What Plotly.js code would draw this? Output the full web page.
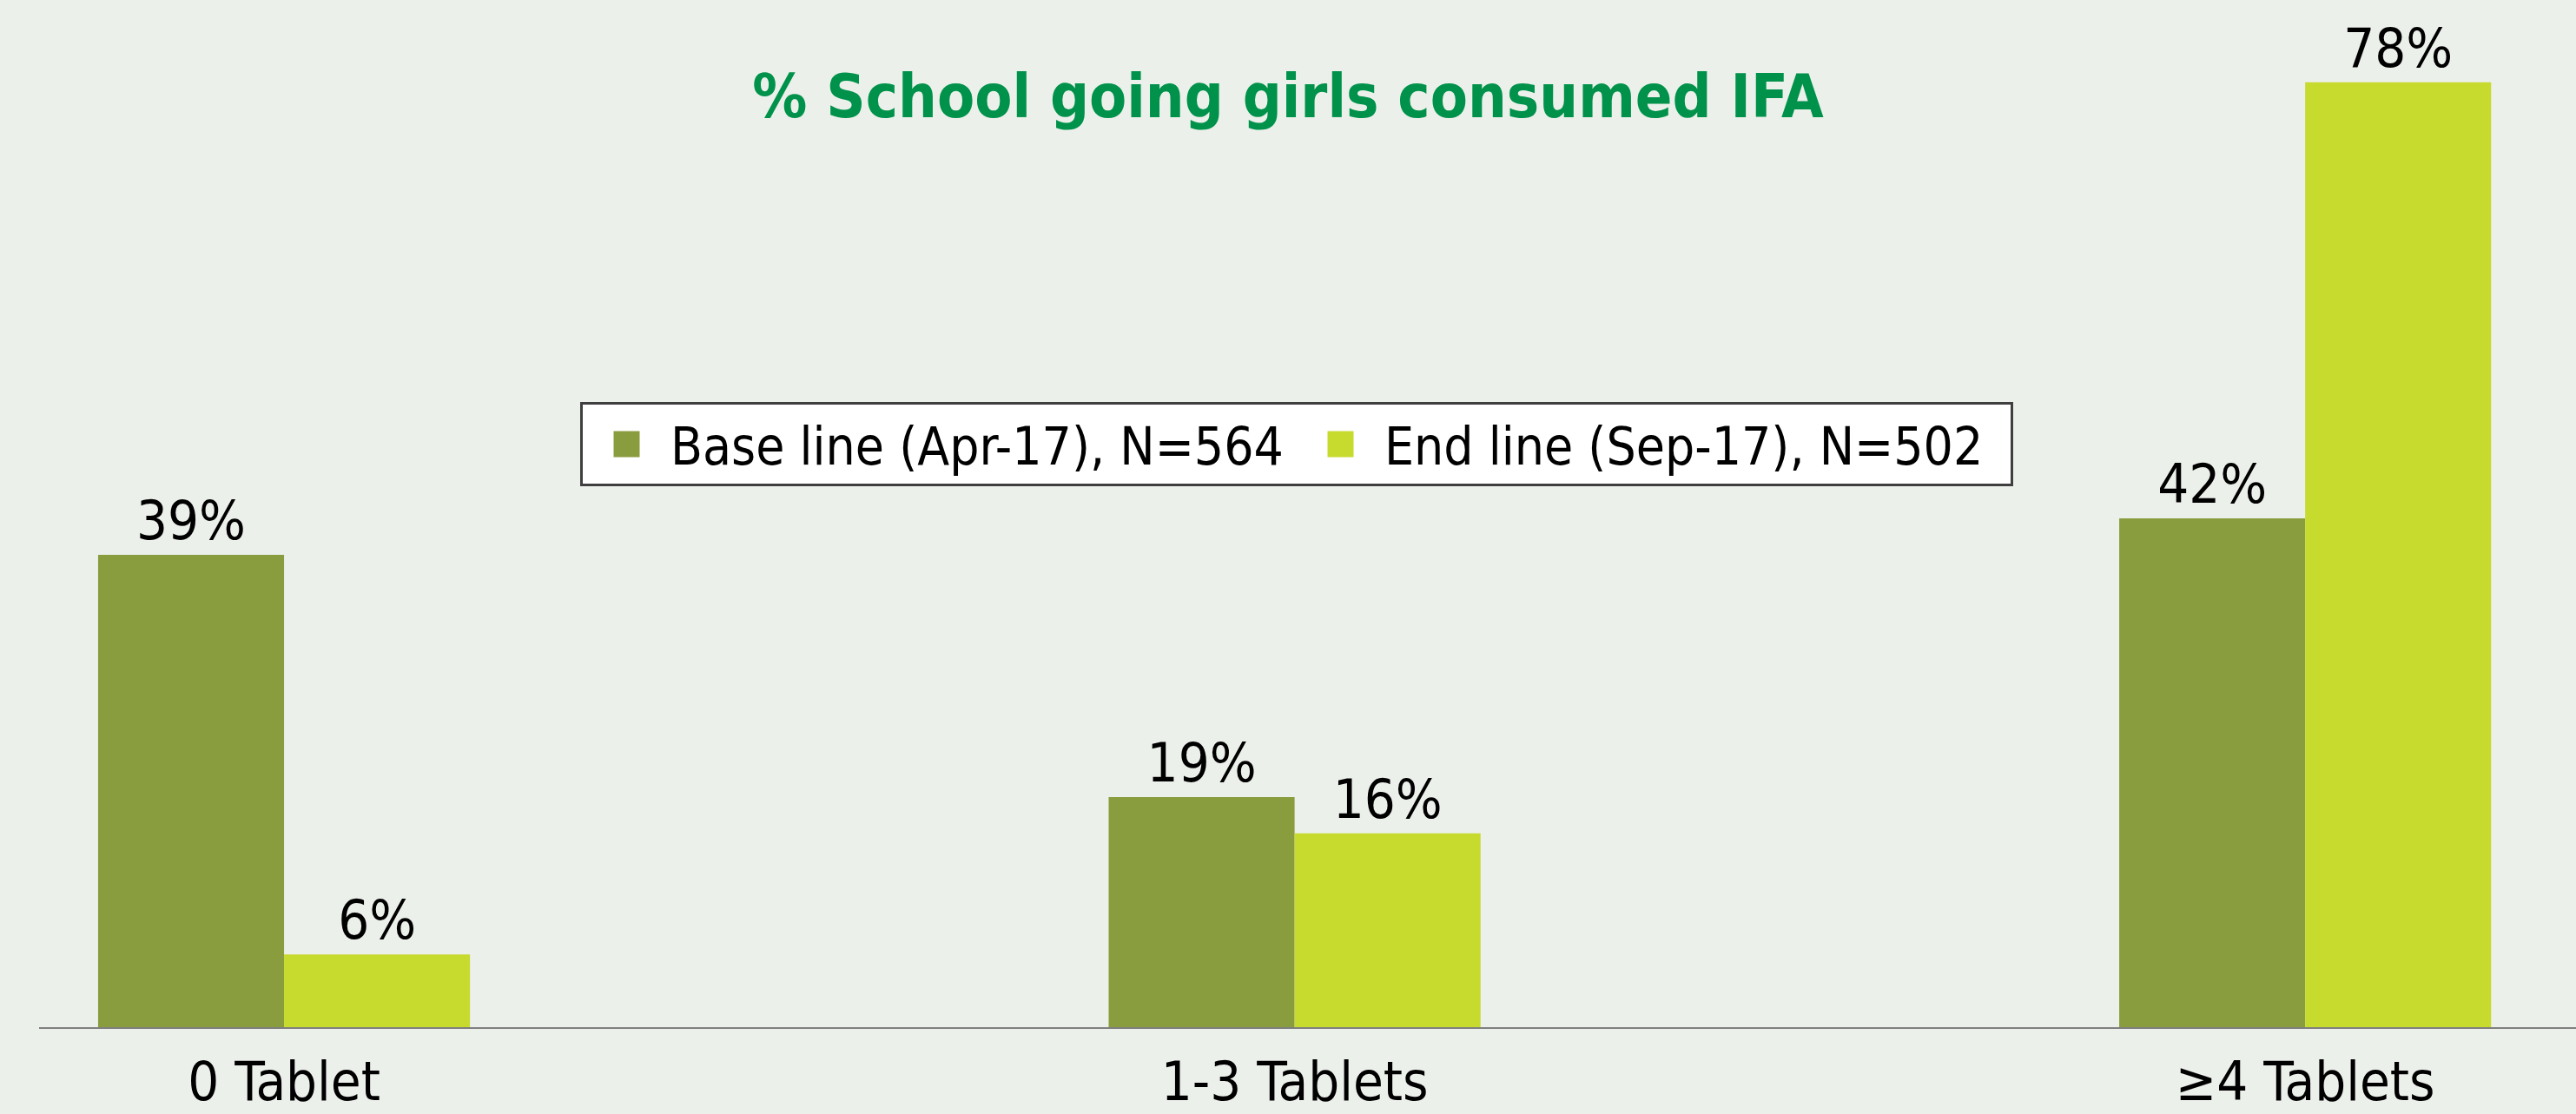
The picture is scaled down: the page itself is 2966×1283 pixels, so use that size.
<!DOCTYPE html>
<html>
<head>
<meta charset="utf-8">
<script src="https://cdn.plot.ly/plotly-3.0.1.min.js"></script>
<style>
  html, body { margin: 0; padding: 0; overflow: hidden; background: #ECF0EB; }
  #chart { width: 2966px; height: 1283px; }
</style>
</head>
<body>
<div id="chart"></div>
<script>
// ---- data ----
const categories = ['0 Tablet', '1-3 Tablets', '≥4 Tablets'];
const baselineValues = [39, 19, 42];
const endlineValues = [6, 16, 78];
const seriesNames = ['Base line (Apr-17), N=564', 'End line (Sep-17), N=502'];
const chartTitle = '% School going girls consumed IFA';

// ---- styles ----
const FONT = 'DejaVu Sans Condensed, DejaVu Sans, sans-serif';
const colors = ['#8A9D3E', '#C7DA2E'];

const makeTrace = (name, values, color) => ({
  type: 'bar',
  name: name,
  x: categories,
  y: values,
  marker: { color: color, line: { width: 0 } },
  texttemplate: '%{y}%',
  textposition: 'outside',
  textfont: { family: FONT, size: 63, color: '#000000' },
  cliponaxis: false,
  hoverinfo: 'skip'
});

const data = [
  makeTrace(seriesNames[0], baselineValues, colors[0]),
  makeTrace(seriesNames[1], endlineValues, colors[1])
];

const layout = {
  width: 2966,
  height: 1283,
  margin: { l: 45, r: 0, t: 0, b: 100 },
  paper_bgcolor: '#ECF0EB',
  plot_bgcolor: 'rgba(0,0,0,0)',
  font: { family: FONT, color: '#000000' },
  title: {
    text: chartTitle,
    x: 0.5, xref: 'container', xanchor: 'center',
    y: 1 - 110 / 1283, yref: 'container', yanchor: 'middle',
    font: { family: FONT, size: 70, color: '#00924A', weight: 'bold' }
  },
  barmode: 'group',
  bargap: 0.632,
  bargroupgap: 0,
  xaxis: {
    type: 'category',
    range: [-0.2424, 2.268],
    showline: true,
    linecolor: '#7F7F7F',
    linewidth: 2,
    ticks: '',
    showgrid: false,
    zeroline: false,
    layer: 'below traces',
    tickfont: { family: FONT, size: 63, color: '#000000' },
    ticklabelstandoff: 6,
    fixedrange: true
  },
  yaxis: {
    range: [0, 84.8],
    visible: false,
    showgrid: false,
    zeroline: false,
    fixedrange: true
  },
  showlegend: true,
  legend: {
    orientation: 'h',
    x: (668 - 45) / 2921, xanchor: 'left',
    y: (1183 - 463) / 1183, yanchor: 'top',
    bgcolor: '#FFFFFF',
    bordercolor: '#3F3F3F',
    borderwidth: 3,
    font: { family: FONT, size: 60, color: '#000000' },
    itemwidth: 91,
    entrywidth: 716,
    traceorder: 'normal'
  }
};

Plotly.newPlot('chart', data, layout, { displayModeBar: false, responsive: false }).then(function () {
  document.querySelectorAll('#chart .legendpoints path').forEach(function (p) {
    p.setAttribute('d', 'M15,15H-15V-15H15Z');
  });
});
</script>
</body>
</html>
